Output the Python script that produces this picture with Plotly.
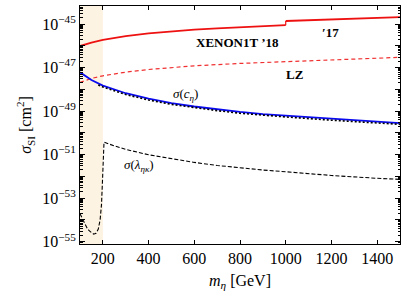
import numpy as np
import plotly.graph_objects as go

# ---------------- data (log10 of sigma_SI in cm^2) -------------
xenon18_m = [100, 150, 200, 300, 400, 500, 600, 700, 800, 900, 1000]
xenon18_log = [-46.01, -45.85, -45.73, -45.55, -45.43, -45.34, -45.26, -45.20, -45.14, -45.09, -45.05]

xenon17_m = [1000, 1100, 1200, 1300, 1400, 1500]
xenon17_log = [-44.86, -44.82, -44.78, -44.75, -44.71, -44.68]

lz_m = [100, 150, 200, 300, 400, 500, 600, 800, 1000, 1200, 1500]
lz_log = [-47.68, -47.50, -47.38, -47.21, -47.09, -46.99, -46.92, -46.81, -46.73, -46.65, -46.53]

c_eta_m = [100, 150, 200, 300, 400, 500, 600, 700, 800, 900, 1000, 1200, 1400, 1500]
c_eta_log = [-47.22, -47.57, -47.83, -48.18, -48.43, -48.63, -48.79, -48.92, -49.04, -49.14,
             -49.21, -49.36, -49.49, -49.55]

c_eta_full_m = [180, 200, 300, 400, 500, 600, 700, 800, 900, 1000, 1200, 1400, 1500]
c_eta_full_log = [-47.80, -47.89, -48.24, -48.49, -48.69, -48.85, -48.98, -49.10, -49.20,
                  -49.27, -49.42, -49.55, -49.61]

lam_m = [100, 110, 120, 130, 140, 150, 160, 170, 180, 188, 194, 198, 201, 203, 205,
         250, 300, 400, 500, 600, 700, 800, 900, 1000, 1200, 1400, 1500]
lam_log = [-53.72, -53.95, -54.17, -54.36, -54.50, -54.60, -54.66, -54.62, -54.42, -54.00,
           -53.30, -52.30, -51.20, -50.60, -50.43,
           -50.60, -50.76, -51.01, -51.20, -51.36, -51.50, -51.61, -51.71, -51.79, -51.96,
           -52.09, -52.14]

excluded_band = [100, 200]

y_exponents = list(range(-55, -44))
y_ticktext = ["10<sup>\u2212%d</sup>" % (-e) if e % 2 else " " for e in y_exponents]
x_tickvals = [200, 400, 600, 800, 1000, 1200, 1400]

FONT = "Liberation Serif, DejaVu Serif, serif"


def p(v):
    return [10.0 ** x for x in v]


fig = go.Figure()

fig.add_shape(type="rect", xref="x", yref="paper", x0=excluded_band[0], x1=excluded_band[1],
              y0=0, y1=1, fillcolor="#fdf3e2", line=dict(width=0), layer="below")

fig.add_trace(go.Scatter(x=xenon18_m, y=p(xenon18_log), mode="lines",
                         line=dict(color="#ee1111", width=1.8)))
fig.add_trace(go.Scatter(x=xenon17_m, y=p(xenon17_log), mode="lines",
                         line=dict(color="#ee1111", width=1.8)))
fig.add_trace(go.Scatter(x=[xenon18_m[-1], xenon17_m[0]], y=p([xenon18_log[-1], xenon17_log[0]]),
                         mode="lines", line=dict(color="#ee1111", width=1.2)))
fig.add_trace(go.Scatter(x=lz_m, y=p(lz_log), mode="lines",
                         line=dict(color="#f03030", width=1.2, dash="4px,3px")))
fig.add_trace(go.Scatter(x=c_eta_m, y=p(c_eta_log), mode="lines",
                         line=dict(color="#0a0af0", width=1.8)))
fig.add_trace(go.Scatter(x=c_eta_full_m, y=p(c_eta_full_log), mode="lines",
                         line=dict(color="black", width=1.6, dash="2px,2px")))
fig.add_trace(go.Scatter(x=lam_m, y=p(lam_log), mode="lines",
                         line=dict(color="black", width=1.1, dash="4px,2px")))

ann_font = dict(family=FONT, size=13, color="black")
annots = [
    (790, -45.83, "<b>XENON1T \u201918</b>"),
    (1195, -45.37, "<b>\u203217</b>"),
    (1040, -47.34, "<b>LZ</b>"),
    (562, -48.26, "<i>\u03c3</i>(<i>c<sub>\u03b7</sub></i>)"),
    (356, -51.48, "<i>\u03c3</i>(<i>\u03bb<sub>\u03b7\u03ba</sub></i>)"),
]
for x, y, t in annots:
    fig.add_annotation(x=x, y=y, text=t, showarrow=False, font=ann_font,
                       xanchor="center", yanchor="middle")

axis_common = dict(showline=True, linecolor="black", linewidth=1, mirror="allticks",
                   ticks="inside", tickcolor="black", showgrid=False, zeroline=False,
                   tickfont=dict(family=FONT, size=16, color="black"))

fig.update_xaxes(range=[100, 1500], tickvals=x_tickvals, ticklen=4,
                 title=dict(text="<i>m<sub>\u03b7</sub></i> [GeV]", standoff=8,
                            font=dict(family=FONT, size=16, color="black")),
                 **axis_common)
fig.update_yaxes(type="log", range=[-55.11, -44.17], tickvals=p(y_exponents),
                 ticktext=y_ticktext, ticklen=5,
                 minor=dict(ticks="inside", ticklen=2.5, dtick="D1", tickcolor="black",
                            showgrid=False),
                 title=dict(text="<i>\u03c3</i><sub>SI</sub> [cm<sup>2</sup>]", standoff=6,
                            font=dict(family=FONT, size=16, color="black")),
                 **axis_common)

fig.update_layout(width=407, height=303, margin=dict(l=80, r=7, t=6, b=59),
                  showlegend=False, paper_bgcolor="white", plot_bgcolor="white",
                  font=dict(family=FONT, color="black"))

fig.write_html("out.html", config={"displayModeBar": False},
               post_script="document.body.style.margin='0';")
